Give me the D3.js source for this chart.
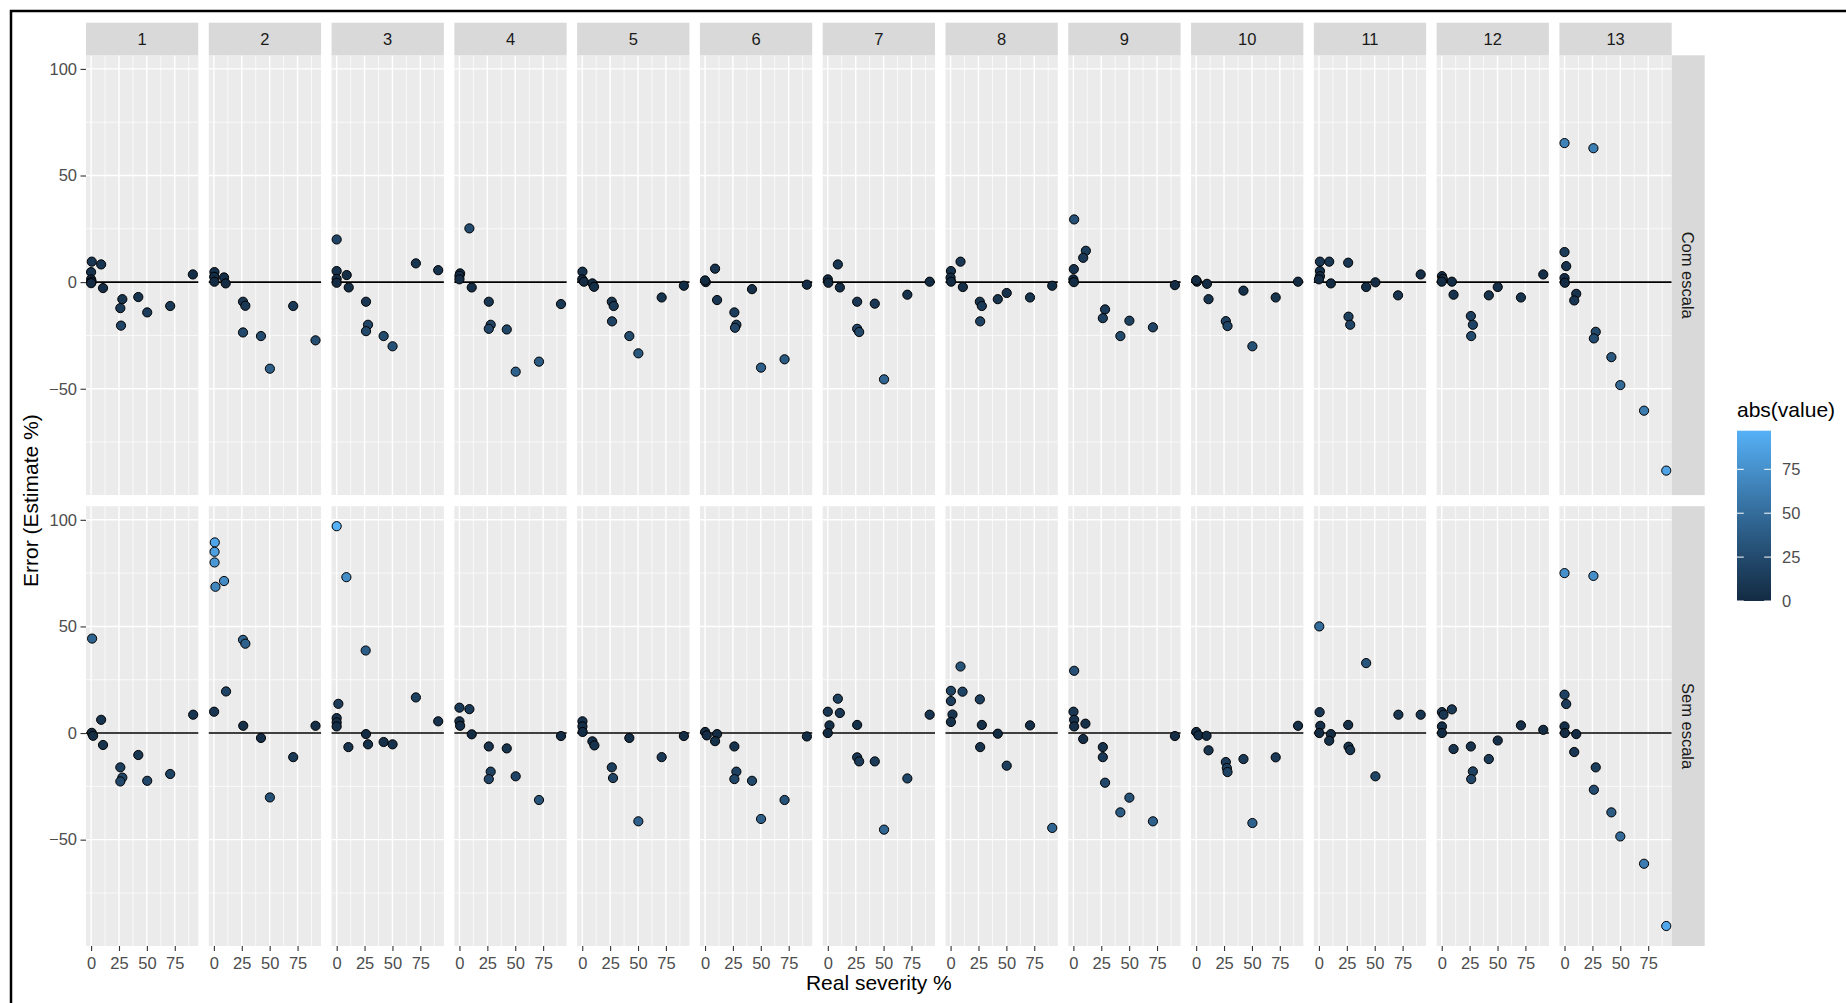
<!DOCTYPE html>
<html><head><meta charset="utf-8">
<script src="https://cdn.jsdelivr.net/npm/d3@7"></script>
<style>
body{margin:0;background:#fff}
svg{display:block}
text{font-family:"Liberation Sans",Arial,Helvetica,sans-serif}
</style>
</head><body><svg id="chart" width="1846" height="1003"></svg>
<script>
// ---------------- DATA ----------------
const panels = ["1","2","3","4","5","6","7","8","9","10","11","12","13"];
const rows = ["Com escala","Sem escala"];
const xTicks = [0,25,50,75];
const yTicks = [-50,0,50,100];
const legendTicks = [0,25,50,75];

// [real severity %, error %] per panel, row "Com escala"
const comEscala = [
  [[0.6,9.6],[9,8.3],[0,4.7],[0,1.3],[0.5,0.2],[0,-0.5],[10.7,-2.8],[28,-8],[26.2,-12.2],[26.8,-20.4],[42.3,-7],[50.3,-14.2],[70.9,-11.2],[91.2,3.6]],
  [[0.5,4.7],[0.3,2.5],[0.5,0.2],[9.1,2.2],[10.6,-0.6],[26.1,-9.2],[28.2,-11.1],[26.1,-23.6],[42.2,-25.3],[50.2,-40.6],[71.1,-11.2],[91.1,-27.3]],
  [[0,20],[0,5.2],[0,1.5],[9,3.3],[0,-0.3],[10.8,-2.5],[26.3,-9.2],[28.1,-20],[26.3,-23],[42.1,-25.3],[50.1,-30.1],[71,8.8],[91,5.6]],
  [[8.9,25.2],[0.6,4.1],[0,3],[0,1.3],[11,-2.5],[26.3,-9.2],[28,-20],[26.3,-21.9],[42.4,-22.2],[50.4,-42],[71.3,-37.3],[91,-10.3]],
  [[0.2,4.9],[0,1.3],[1.5,0.2],[9.1,-0.6],[10.6,-2.2],[26.5,-9.2],[28.2,-11.2],[26.7,-18.4],[42.2,-25.3],[50.3,-33.4],[71.2,-7.2],[91.1,-1.7]],
  [[0.7,0],[0,0.8],[9,6.3],[10.8,-8.4],[26.3,-14.2],[28.1,-20],[26.9,-21.4],[42.1,-3.3],[50.2,-40.1],[71.3,-36.2],[91.3,-1.2]],
  [[0,1.3],[0.5,-0.3],[9,8.3],[10.8,-2.5],[26.3,-9.2],[26.3,-21.9],[28.1,-23.4],[42.1,-10.1],[50.4,-45.6],[71.3,-5.9],[91.3,0.2]],
  [[0.3,5.2],[0,2.1],[0.5,0.2],[8.9,9.6],[11,-2.3],[26.2,-9.2],[28,-11.2],[26.5,-18.4],[42.3,-8],[50.3,-5.1],[71.2,-7.2],[91.1,-1.7]],
  [[0.7,29.4],[11.2,14.7],[8.8,11.4],[0.4,6.1],[0,1.3],[0.5,0],[28.4,-12.8],[26.4,-16.9],[42.1,-25.3],[50.2,-18.1],[71.3,-21.2],[91,-1.4]],
  [[0.7,0.2],[0,0.9],[9.7,-0.8],[11.1,-8],[26.6,-18.3],[28.1,-20.6],[42.4,-4],[50.4,-30.1],[71.3,-7.2],[91.3,0.2]],
  [[0.9,9.6],[9.2,9.6],[0.9,5.2],[0.9,2.8],[0,1.3],[10.7,-0.6],[26.2,9.1],[26.5,-16.2],[28,-20],[42.3,-2.3],[50.6,-0.1],[70.9,-6.2],[91.2,3.6]],
  [[0.2,2.8],[1,1.5],[0,0.2],[9.1,0.2],[10.6,-5.9],[26.1,-15.9],[27.9,-20],[26.4,-25.3],[42.2,-6.2],[50.2,-2.3],[71,-7.2],[91,3.6]],
  [[0,65.2],[25.9,62.8],[0,14.1],[1.5,7.5],[0,1.9],[0.3,-0.3],[10.5,-5.5],[8.7,-8.6],[28,-23.3],[26.3,-26.4],[42,-35.2],[50,-48.3],[71.3,-60.3],[91.2,-88.4]]
];

// [real severity %, error %] per panel, row "Sem escala"
const semEscala = [
  [[0.9,44.3],[9,6.2],[0.6,0.1],[1.8,-1.3],[10.7,-5.6],[26.2,-16.1],[28,-20.9],[26.2,-22.7],[42.3,-10.3],[50.3,-22.4],[70.9,-19.2],[91.5,8.6]],
  [[0.8,89.4],[0.6,85],[0.6,80],[1.4,68.6],[9.1,71.3],[10.9,19.5],[0.2,10],[26.1,43.7],[28.2,41.9],[26.3,3.4],[42.2,-2.3],[50.2,-30.2],[71.1,-11.3],[91.1,3.4]],
  [[0,97],[8.7,73.1],[26,38.7],[1.5,13.7],[0,7],[0,5],[0,3.1],[10.5,-6.6],[26.3,-0.5],[28.1,-5.3],[42.1,-4.2],[50.1,-5.3],[71,16.7],[91,5.5]],
  [[0,11.9],[8.9,11.2],[0,5.5],[0.6,3.4],[11,-0.6],[26.3,-6.3],[28,-18.1],[26.3,-21.6],[42.4,-7.2],[50.4,-20.3],[71.3,-31.4],[91,-1.4]],
  [[0.2,5.5],[0.2,3.1],[0.4,0.5],[9.1,-3.9],[10.9,-5.8],[26.5,-16.1],[27.6,-21.1],[42.2,-2.3],[50.3,-41.4],[71.2,-11.3],[91.1,-1.4]],
  [[0.1,0.5],[1.6,-1.1],[10.8,-0.5],[9,-3.8],[26.3,-6.3],[28.1,-18.1],[26.3,-21.6],[42.1,-22.4],[50.2,-40.3],[71.3,-31.4],[91.3,-1.6]],
  [[0,10],[9,16.1],[10.8,9.4],[1.5,3.6],[0,0],[26.3,3.8],[26.3,-11.4],[28.1,-13.3],[42.1,-13.3],[50.4,-45.3],[71.3,-21.3],[91.3,8.6]],
  [[8.9,31.2],[0.3,19.8],[10.7,19.4],[0.3,15],[1.7,8.7],[0.3,5.2],[26.2,15.8],[28,3.8],[26.5,-6.6],[42.3,-0.3],[50.3,-15.3],[71.2,3.6],[91.1,-44.5]],
  [[0.7,29.2],[0.1,10],[0.7,6.2],[0.7,3.1],[10.8,4.4],[8.8,-2.8],[26.4,-6.6],[26.4,-11.3],[28.4,-23.3],[42.1,-37.2],[50.2,-30.3],[71.3,-41.4],[91,-1.4]],
  [[0.1,0.5],[2.1,-1.1],[9.3,-1.3],[11.1,-8.1],[26.6,-13.6],[27.5,-16.4],[28.1,-18.3],[42.4,-12.2],[50.4,-42.2],[71.3,-11.4],[91.3,3.4]],
  [[0.3,50],[0.6,9.8],[1.2,3.4],[0.3,0],[10.7,-0.5],[9.2,-3.6],[42.3,32.8],[26.2,3.8],[26.5,-6.4],[28,-8],[50.6,-20.3],[71.2,8.6],[91.2,8.6]],
  [[0.2,9.8],[9.1,11.1],[1.6,8.6],[0.2,3.1],[0.2,0],[10.6,-7.5],[26.1,-6.3],[27.9,-18],[26.4,-21.6],[42.2,-12.2],[50.2,-3.5],[71,3.6],[91,1.5]],
  [[0,75],[25.9,73.7],[0,18],[1.5,13.6],[0,3.1],[0.3,0],[10.5,-0.5],[8.7,-8.9],[28,-16.1],[26.3,-26.6],[42,-37.2],[50,-48.5],[71.3,-61.3],[91.2,-90.5]]
];

// ---------------- CHART ----------------
const rowData = [comEscala, semEscala];
const svg = d3.select("#chart");
const W = 1846, H = 1003;

const all = rowData.flatMap(r => r.flat());
function expand(ext, f){ const d = ext[1]-ext[0]; return [ext[0]-d*f, ext[1]+d*f]; }
const xDom = expand(d3.extent(all, d => d[0]), 0.05);
const yDom = expand(d3.extent(all, d => d[1]), 0.05);
const absExt = d3.extent(all, d => Math.abs(d[1]));

const col = d3.scaleBand().domain(panels).range([86, 1671.7]).paddingInner(0.0855).paddingOuter(0);
const row = d3.scaleBand().domain(rows).range([55.3, 946]).paddingInner(0.0247).paddingOuter(0);
const x = d3.scaleLinear().domain(xDom).range([0, col.bandwidth()]);
const y = d3.scaleLinear().domain(yDom).range([row.bandwidth(), 0]);
const color = d3.scaleLinear().domain(absExt).range(["#132B43","#56B1F7"]).interpolate(d3.interpolateLab);

const xMinor = [12.5,37.5,62.5,87.5];
const yMinor = [-75,-25,25,75];

// outer frame
svg.append("path").attr("d", `M11,${H} L11,11 L${W},11`).attr("fill","none").attr("stroke","#000").attr("stroke-width",2.5);

rows.forEach((rName, ri) => {
  const py = row(rName);
  panels.forEach((pName, pi) => {
    const px = col(pName);
    const g = svg.append("g").attr("transform", `translate(${px},${py})`);
    g.append("rect").attr("width", col.bandwidth()).attr("height", row.bandwidth()).attr("fill", "#EBEBEB");
    // minor grid
    g.selectAll(".ymin").data(yMinor).join("line")
      .attr("x1",0).attr("x2",col.bandwidth()).attr("y1",d=>y(d)).attr("y2",d=>y(d))
      .attr("stroke","#fff").attr("stroke-width",0.7);
    g.selectAll(".xmin").data(xMinor).join("line")
      .attr("y1",0).attr("y2",row.bandwidth()).attr("x1",d=>x(d)).attr("x2",d=>x(d))
      .attr("stroke","#fff").attr("stroke-width",0.7);
    // major grid
    g.selectAll(".ymaj").data(yTicks).join("line")
      .attr("x1",0).attr("x2",col.bandwidth()).attr("y1",d=>y(d)).attr("y2",d=>y(d))
      .attr("stroke","#fff").attr("stroke-width",1.4);
    g.selectAll(".xmaj").data(xTicks).join("line")
      .attr("y1",0).attr("y2",row.bandwidth()).attr("x1",d=>x(d)).attr("x2",d=>x(d))
      .attr("stroke","#fff").attr("stroke-width",1.4);
    // zero line
    g.append("line").attr("x1",0).attr("x2",col.bandwidth()).attr("y1",y(0)).attr("y2",y(0))
      .attr("stroke","#000").attr("stroke-width",1.6);
    // points
    g.selectAll("circle").data(rowData[ri][pi]).join("circle")
      .attr("cx", d => x(d[0])).attr("cy", d => y(d[1])).attr("r", 4.6)
      .attr("fill", d => color(Math.abs(d[1])))
      .attr("stroke", "#000").attr("stroke-width", 1);

    // top strips
    if (ri === 0) {
      svg.append("rect").attr("x", px).attr("y", 22.7).attr("width", col.bandwidth()).attr("height", py - 22.7).attr("fill", "#D9D9D9");
      svg.append("text").attr("x", px + col.bandwidth()/2).attr("y", (22.7 + py)/2)
        .attr("text-anchor","middle").attr("dominant-baseline","central")
        .attr("font-size", 16.5).attr("fill","#1A1A1A").text(pName);
    }
    // x axis on bottom row
    if (ri === rows.length - 1) {
      const ax = svg.append("g").attr("transform", `translate(${px},${py + row.bandwidth()})`)
        .call(d3.axisBottom(x).tickValues(xTicks).tickSize(5).tickPadding(6.5).tickFormat(d3.format("d")));
      ax.select(".domain").remove();
      ax.selectAll("line").attr("stroke","#333").attr("stroke-width",1.1);
      ax.selectAll("text").attr("font-size",16.5).attr("fill","#4D4D4D").attr("font-family",null);
    }
    // y axis on first column
    if (pi === 0) {
      const ay = svg.append("g").attr("transform", `translate(${px},${py})`)
        .call(d3.axisLeft(y).tickValues(yTicks).tickSize(5.5).tickPadding(3.5).tickFormat(d3.format("d")));
      ay.select(".domain").remove();
      ay.selectAll("line").attr("stroke","#333").attr("stroke-width",1.1);
      ay.selectAll("text").attr("font-size",16.5).attr("fill","#4D4D4D").attr("font-family",null);
    }
  });
  // right strip
  const sx = col(panels[panels.length-1]) + col.bandwidth();
  svg.append("rect").attr("x", sx).attr("y", py).attr("width", 33).attr("height", row.bandwidth()).attr("fill","#D9D9D9");
  svg.append("text").attr("transform", `translate(${sx + 16.5},${py + row.bandwidth()/2}) rotate(90)`)
    .attr("text-anchor","middle").attr("dominant-baseline","central")
    .attr("font-size",16.5).attr("fill","#1A1A1A").text(rName);
});

// axis titles
svg.append("text").attr("x", (86 + 1671.7)/2).attr("y", 990).attr("text-anchor","middle")
  .attr("font-size", 21).attr("fill","#000").text("Real severity %");
svg.append("text").attr("transform", `translate(38,${(55.3+946)/2}) rotate(-90)`).attr("text-anchor","middle")
  .attr("font-size", 21).attr("fill","#000").text("Error (Estimate %)");

// legend
const lx = 1737, lTop = 430.7, lBot = 601, lw = 34;
const ly = d3.scaleLinear().domain(absExt).range([lBot, lTop]);
const defs = svg.append("defs");
const grad = defs.append("linearGradient").attr("id","lg").attr("x1",0).attr("x2",0).attr("y1",1).attr("y2",0);
d3.range(0, 1.0001, 0.05).forEach(t => {
  grad.append("stop").attr("offset", t).attr("stop-color", color(absExt[0] + t*(absExt[1]-absExt[0])));
});
svg.append("text").attr("x", lx).attr("y", 417).attr("font-size", 21).attr("fill","#000").text("abs(value)");
svg.append("rect").attr("x", lx).attr("y", lTop).attr("width", lw).attr("height", lBot - lTop).attr("fill","url(#lg)");
legendTicks.forEach(v => {
  const yy = ly(v);
  svg.append("line").attr("x1", lx).attr("x2", lx + 6.8).attr("y1", yy).attr("y2", yy).attr("stroke","#fff").attr("stroke-width",1);
  svg.append("line").attr("x1", lx + lw - 6.8).attr("x2", lx + lw).attr("y1", yy).attr("y2", yy).attr("stroke","#fff").attr("stroke-width",1);
  svg.append("text").attr("x", lx + lw + 11).attr("y", yy).attr("dominant-baseline","central")
    .attr("font-size",16.5).attr("fill","#4D4D4D").text(v);
});
</script>
</body></html>
